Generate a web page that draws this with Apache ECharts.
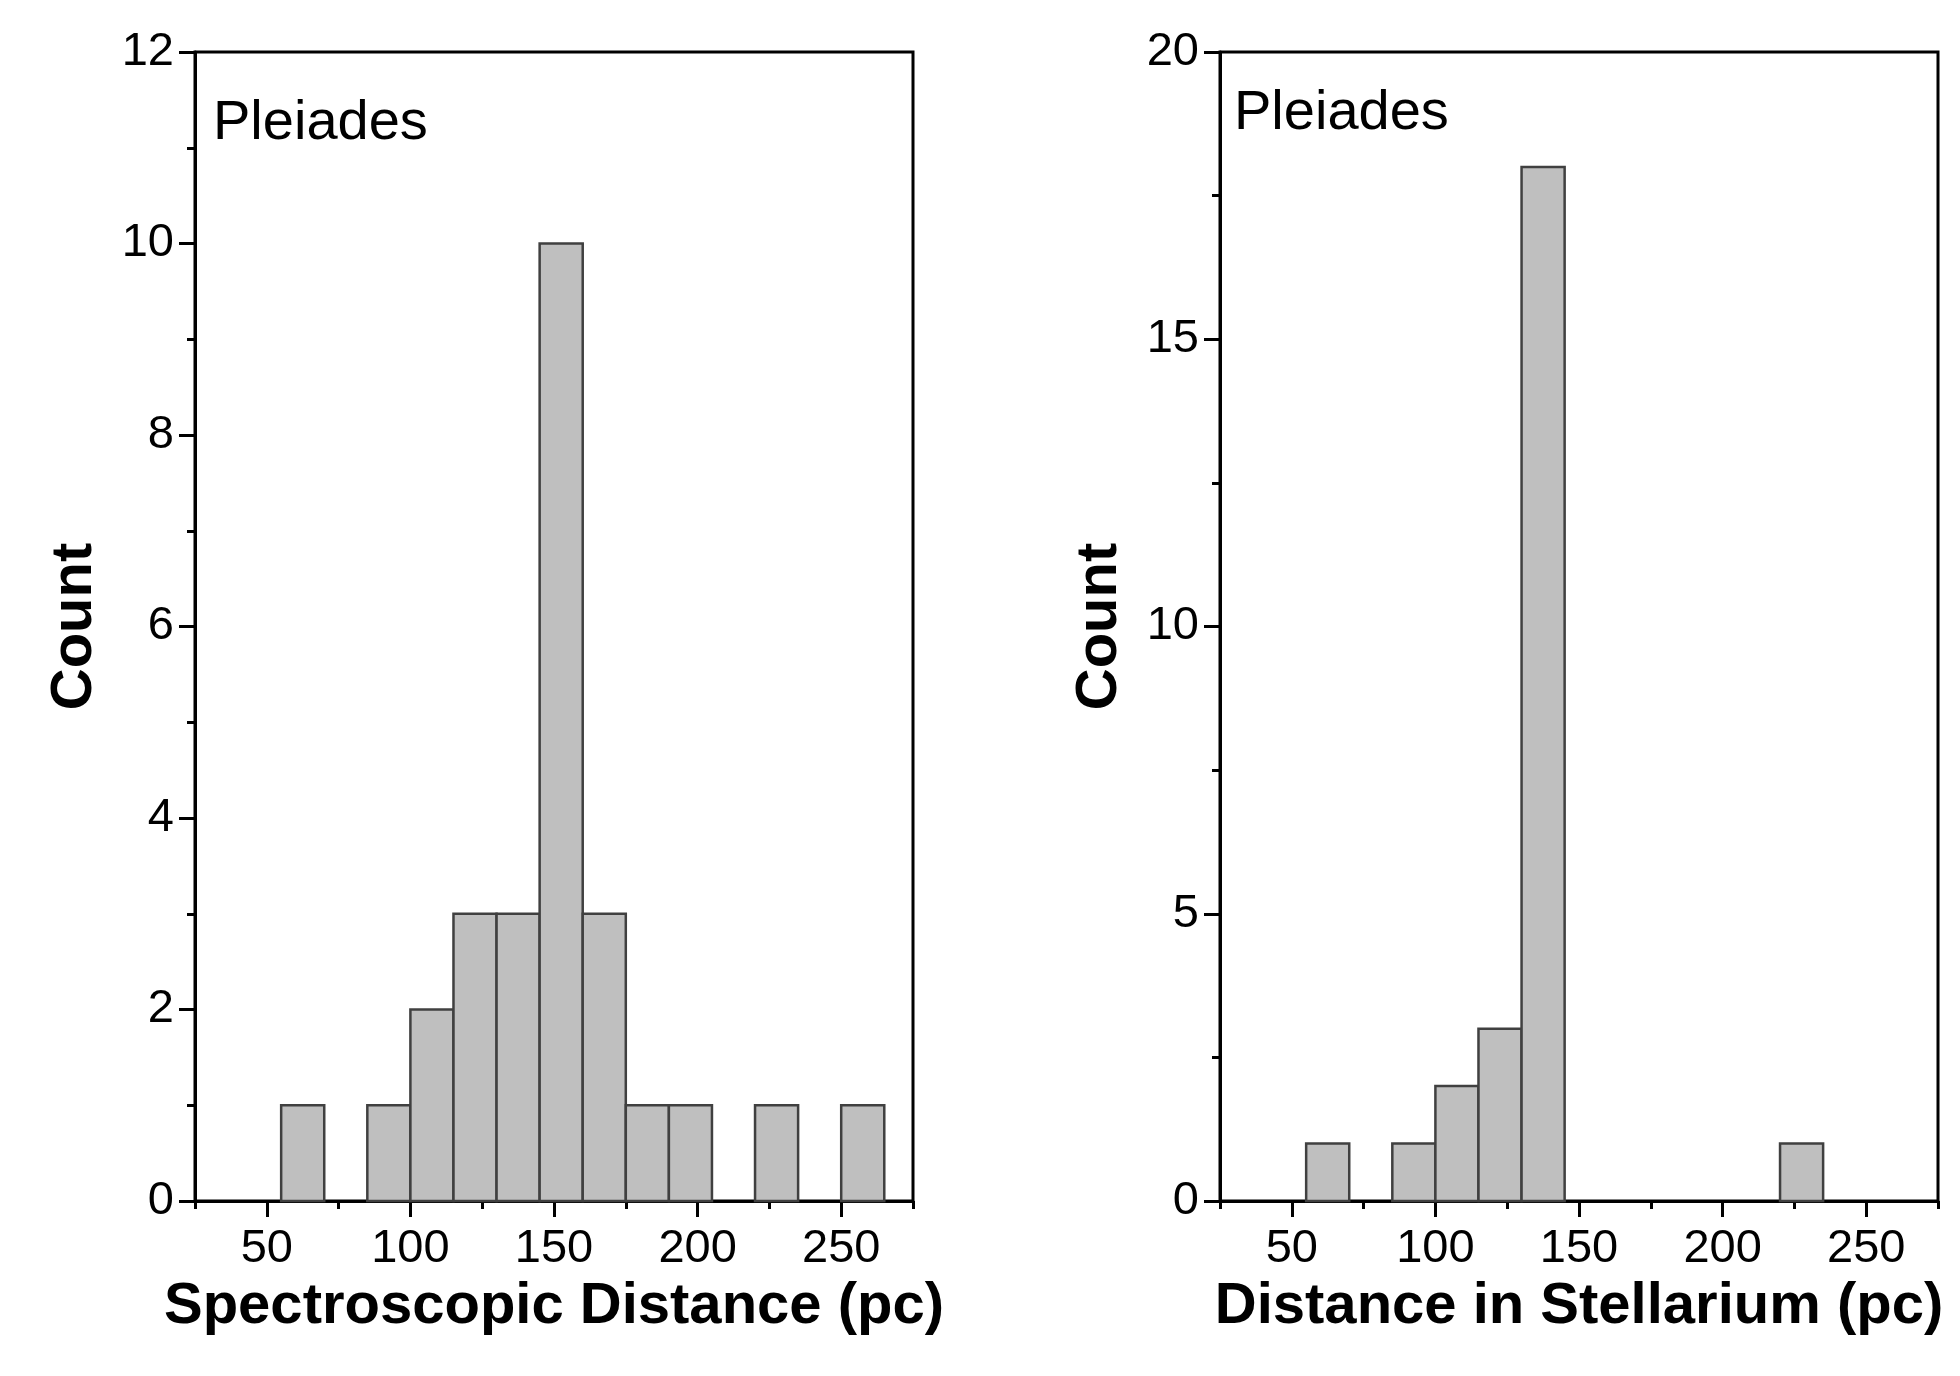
<!DOCTYPE html>
<html>
<head>
<meta charset="utf-8">
<script src="https://cdn.jsdelivr.net/npm/echarts@6/dist/echarts.min.js"></script>
<style>html,body{margin:0;padding:0;background:#fff;}#c{width:1960px;height:1376px;}</style>
</head>
<body>
<div id="c"></div>
<script>
// Histogram bins (pc): left edges, bin width 15
var binEdges = [55, 70, 85, 100, 115, 130, 145, 160, 175, 190, 205, 220, 235, 250, 265];
var spectroscopicCounts = [1, 0, 1, 2, 3, 3, 10, 3, 1, 1, 0, 1, 0, 1];
var stellariumCounts    = [1, 0, 1, 2, 3, 18, 0, 0, 0, 0, 0, 1, 0, 0];
var xMajorTicks = [50, 100, 150, 200, 250];
var xMinorTicks = [25, 75, 125, 175, 225, 275];
var leftTitle = 'Spectroscopic Distance (pc)';
var rightTitle = 'Distance in Stellarium (pc)';
var yTitle = 'Count';
var panelLabel = 'Pleiades';

var FONT = '"Liberation Sans", Arial, sans-serif';

function binData(counts) {
  var out = [];
  for (var i = 0; i < counts.length; i++) {
    if (counts[i] > 0) out.push([binEdges[i], binEdges[i + 1], counts[i]]);
  }
  return out;
}

function renderBar(params, api) {
  var p0 = api.coord([api.value(0), api.value(2)]);
  var p1 = api.coord([api.value(1), 0]);
  return {
    type: 'rect',
    shape: { x: p0[0], y: p0[1], width: p1[0] - p0[0], height: p1[1] - p0[1] },
    style: { fill: '#bfbfbf', stroke: '#404040', lineWidth: 2.5 }
  };
}

function mainX(grid, title) {
  return {
    type: 'value', gridIndex: grid, min: 25, max: 275, interval: 25,
    name: title, nameLocation: 'middle', nameGap: 106,
    nameTextStyle: { fontFamily: FONT, fontSize: 58, fontWeight: 'bold', color: '#000', verticalAlign: 'middle' },
    axisLine: { show: true, onZero: false, lineStyle: { color: '#000', width: 3 } },
    axisTick: { show: true, customValues: xMajorTicks, length: 16, lineStyle: { color: '#000', width: 3 } },
    axisLabel: { show: true, customValues: xMajorTicks, margin: 25, fontFamily: FONT, fontSize: 47, color: '#000' },
    splitLine: { show: false }
  };
}
function minorX(grid) {
  return {
    type: 'value', gridIndex: grid, min: 25, max: 275, interval: 25, position: 'bottom',
    axisLine: { show: false },
    axisTick: { show: true, customValues: xMinorTicks, length: 8, lineStyle: { color: '#000', width: 3 } },
    axisLabel: { show: false },
    splitLine: { show: false }
  };
}
function mainY(grid, max, interval) {
  return {
    type: 'value', gridIndex: grid, min: 0, max: max, interval: interval,
    name: yTitle, nameLocation: 'middle', nameGap: 120, nameRotate: 90,
    nameTextStyle: { fontFamily: FONT, fontSize: 58, fontWeight: 'bold', color: '#000', verticalAlign: 'middle' },
    axisLine: { show: true, onZero: false, lineStyle: { color: '#000', width: 3 } },
    axisTick: { show: true, length: 16, lineStyle: { color: '#000', width: 3 } },
    minorTick: { show: true, splitNumber: 2, length: 8, lineStyle: { color: '#000', width: 3 } },
    axisLabel: { show: true, margin: 21, fontFamily: FONT, fontSize: 47, color: '#000' },
    splitLine: { show: false }, minorSplitLine: { show: false }
  };
}

var chart = echarts.init(document.getElementById('c'), null, { renderer: 'canvas' });
chart.setOption({
  backgroundColor: '#fff',
  animation: false,
  grid: [
    { left: 195, top: 52, width: 718, height: 1149, show: true, borderColor: '#000', borderWidth: 3, backgroundColor: 'transparent' },
    { left: 1220, top: 52, width: 718, height: 1149, show: true, borderColor: '#000', borderWidth: 3, backgroundColor: 'transparent' }
  ],
  xAxis: [mainX(0, leftTitle), minorX(0), mainX(1, rightTitle), minorX(1)],
  yAxis: [mainY(0, 12, 2), mainY(1, 20, 5)],
  graphic: [
    { type: 'text', x: 213, y: 124, style: { text: panelLabel, font: '56px ' + FONT, fill: '#000', verticalAlign: 'middle' } },
    { type: 'text', x: 1234, y: 114, style: { text: panelLabel, font: '56px ' + FONT, fill: '#000', verticalAlign: 'middle' } }
  ],
  series: [
    { type: 'custom', xAxisIndex: 0, yAxisIndex: 0, renderItem: renderBar, encode: { x: [0, 1], y: 2 }, data: binData(spectroscopicCounts), z: 1 },
    { type: 'custom', xAxisIndex: 2, yAxisIndex: 1, renderItem: renderBar, encode: { x: [0, 1], y: 2 }, data: binData(stellariumCounts), z: 1 }
  ]
});
</script>
</body>
</html>
